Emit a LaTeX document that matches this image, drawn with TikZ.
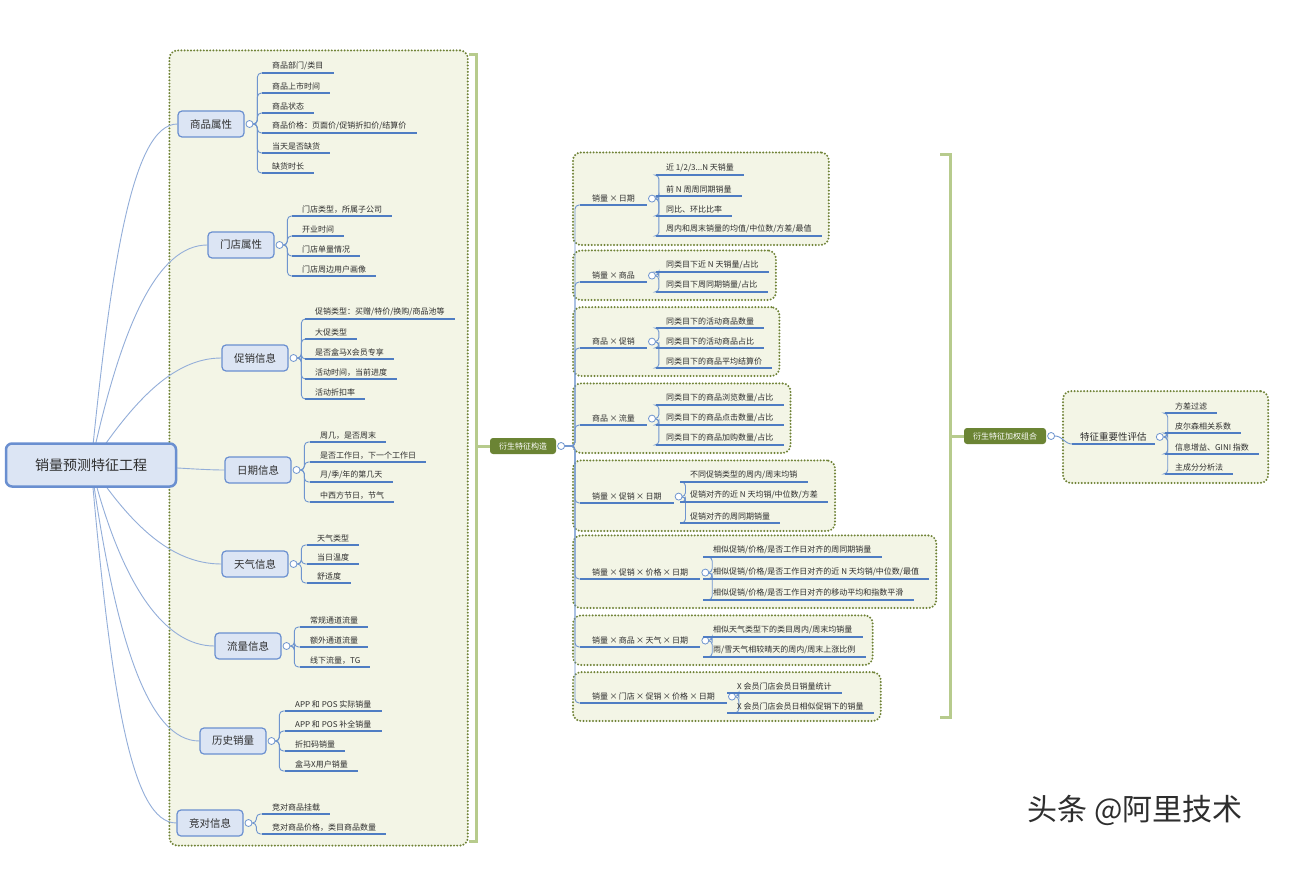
\documentclass[tikz,border=0pt]{standalone}
\usepackage{fontspec}
\setmainfont{Noto Sans CJK SC}
\usetikzlibrary{positioning, fit, backgrounds, calc}

\definecolor{txt}{HTML}{2E2E2E}
\definecolor{catfill}{HTML}{DCE5F4}
\definecolor{catdraw}{HTML}{6A8FD0}
\definecolor{ulblue}{HTML}{4F7DC3}
\definecolor{twigblue}{HTML}{6F95CF}
\definecolor{limbblue}{HTML}{93AED9}
\definecolor{boxfill}{HTML}{F3F5E6}
\definecolor{boxdraw}{HTML}{6F8236}
\definecolor{olive}{HTML}{6B8434}
\definecolor{brkgreen}{HTML}{B7CB8D}

\begin{document}
\begin{tikzpicture}[x=1pt, y=-1pt,
  root/.style={draw=catdraw, fill=catfill, line width=2.5pt, rounded corners=6pt,
               minimum width=170pt, minimum height=43pt, text=txt,
               font=\fontsize{14pt}{16pt}\selectfont},
  cat/.style={draw=catdraw, fill=catfill, line width=1.2pt, rounded corners=4pt,
              minimum width=66pt, minimum height=26pt, text=txt,
              font=\fontsize{10.5pt}{12pt}\selectfont},
  underln/.style={draw=ulblue, line width=2pt},
  leaf/.style={anchor=south west, inner xsep=10pt, inner ysep=2.5pt, text=txt,
               font=\fontsize{8pt}{9pt}\selectfont,
               append after command={(\tikzlastnode.south west) edge[underln] (\tikzlastnode.south east)}},
  glabel/.style={leaf, inner xsep=12pt},
  gen/.style={fill=olive, text=white, rounded corners=3pt, minimum width=66pt,
              minimum height=16pt, font=\fontsize{8pt}{9pt}\selectfont},
  dot/.style={circle, draw=twigblue, fill=white, line width=0.8pt, inner sep=0pt,
              minimum size=7pt},
  twig/.style={draw=twigblue, line width=0.9pt, rounded corners=4pt},
  limb/.style={draw=limbblue, line width=0.9pt},
  gbox/.style={draw=boxdraw, fill=boxfill, line width=2.2pt, rounded corners=8pt,
               dash pattern=on 0pt off 3.2pt, line cap=round},
  brk/.style={draw=brkgreen, line width=3pt},
]

\useasboundingbox (0,0) rectangle (1310,896);
\begin{scope}[on background layer]
  \fill[white] (0,0) rectangle (1310,896);
\end{scope}

% Root
\node[root] (root) at (91,465) {销量预测特征工程};

% Base feature categories
\node[cat] (item) at (211,124) {商品属性};
\node[cat] (store) at (241,245) {门店属性};
\node[cat] (promo) at (255,358) {促销信息};
\node[cat] (date) at (258,470) {日期信息};
\node[cat] (weather) at (255,564) {天气信息};
\node[cat] (traffic) at (248,646) {流量信息};
\node[cat] (hist) at (233,741) {历史销量};
\node[cat] (rival) at (210,823) {竞对信息};

\node[dot, right=1pt of item] (itemdot) {};
\node[dot, right=1pt of store] (storedot) {};
\node[dot, right=1pt of promo] (promodot) {};
\node[dot, right=1pt of date] (datedot) {};
\node[dot, right=1pt of weather] (weatherdot) {};
\node[dot, right=1pt of traffic] (trafficdot) {};
\node[dot, right=1pt of hist] (histdot) {};
\node[dot, right=1pt of rival] (rivaldot) {};

% Leaves of the categories
\node[leaf] (item1) at (262,73) {商品部门/类目};
\node[leaf] (item2) at (262,93) {商品上市时间};
\node[leaf] (item3) at (262,113) {商品状态};
\node[leaf] (item4) at (262,133) {商品价格：页面价/促销折扣价/结算价};
\node[leaf] (item5) at (262,153) {当天是否缺货};
\node[leaf] (item6) at (262,173) {缺货时长};

\node[leaf] (store1) at (292,216) {门店类型，所属子公司};
\node[leaf] (store2) at (292,236) {开业时间};
\node[leaf] (store3) at (292,256) {门店单量情况};
\node[leaf] (store4) at (292,276) {门店周边用户画像};

\node[leaf] (promo1) at (305,319) {促销类型：买赠/特价/换购/商品池等};
\node[leaf] (promo2) at (305,339) {大促类型};
\node[leaf] (promo3) at (305,359) {是否盒马X会员专享};
\node[leaf] (promo4) at (305,379) {活动时间，当前进度};
\node[leaf] (promo5) at (305,399) {活动折扣率};

\node[leaf] (date1) at (310,442) {周几，是否周末};
\node[leaf] (date2) at (310,462) {是否工作日，下一个工作日};
\node[leaf] (date3) at (310,482) {月/季/年的第几天};
\node[leaf] (date4) at (310,502) {中西方节日，节气};

\node[leaf] (weather1) at (307,545) {天气类型};
\node[leaf] (weather2) at (307,564) {当日温度};
\node[leaf] (weather3) at (307,583) {舒适度};

\node[leaf] (traffic1) at (300,627) {常规通道流量};
\node[leaf] (traffic2) at (300,647) {额外通道流量};
\node[leaf] (traffic3) at (300,667) {线下流量，TG};

\node[leaf] (hist1) at (285,711) {APP 和 POS 实际销量};
\node[leaf] (hist2) at (285,731) {APP 和 POS 补全销量};
\node[leaf] (hist3) at (285,751) {折扣码销量};
\node[leaf] (hist4) at (285,771) {盒马X用户销量};

\node[leaf] (rival1) at (262,814) {竞对商品挂载};
\node[leaf] (rival2) at (262,834) {竞对商品价格，类目商品数量};

% Derived feature construction
\node[gen] (derive) at (523,446) {衍生特征构造};
\node[dot, right=1pt of derive] (derivedot) {};

\node[glabel] (sd) at (580,205) {销量\,×\,日期};
\node[glabel] (si) at (580,282) {销量\,×\,商品};
\node[glabel] (ip) at (580,348) {商品\,×\,促销};
\node[glabel] (it) at (580,425) {商品\,×\,流量};
\node[glabel] (spd) at (580,503) {销量\,×\,促销\,×\,日期};
\node[glabel] (sppd) at (580,579) {销量\,×\,促销\,×\,价格\,×\,日期};
\node[glabel] (siwd) at (580,647) {销量\,×\,商品\,×\,天气\,×\,日期};
\node[glabel] (sspd) at (580,703) {销量\,×\,门店\,×\,促销\,×\,价格\,×\,日期};

\node[dot, right=1pt of sd] (sddot) {};
\node[dot, right=1pt of si] (sidot) {};
\node[dot, right=1pt of ip] (ipdot) {};
\node[dot, right=1pt of it] (itdot) {};
\node[dot, right=1pt of spd] (spddot) {};
\node[dot, right=1pt of sppd] (sppddot) {};
\node[dot, right=1pt of siwd] (siwddot) {};
\node[dot, right=1pt of sspd] (sspddot) {};

\node[leaf] (sd1) at (656,175) {近 1/2/3...N 天销量};
\node[leaf] (sd2) at (656,196) {前 N 周周同期销量};
\node[leaf] (sd3) at (656,216) {同比、环比比率};
\node[leaf] (sd4) at (656,236) {周内和周末销量的均值/中位数/方差/最值};

\node[leaf] (si1) at (656,272) {同类目下近 N 天销量/占比};
\node[leaf] (si2) at (656,292) {同类目下周同期销量/占比};

\node[leaf] (ip1) at (656,328) {同类目下的活动商品数量};
\node[leaf] (ip2) at (656,348) {同类目下的活动商品占比};
\node[leaf] (ip3) at (656,368) {同类目下的商品平均结算价};

\node[leaf] (it1) at (656,405) {同类目下的商品浏览数量/占比};
\node[leaf] (it2) at (656,425) {同类目下的商品点击数量/占比};
\node[leaf] (it3) at (656,445) {同类目下的商品加购数量/占比};

\node[leaf] (spd1) at (680,482) {不同促销类型的周内/周末均销};
\node[leaf] (spd2) at (680,502) {促销对齐的近 N 天均销/中位数/方差};
\node[leaf] (spd3) at (680,523) {促销对齐的周同期销量};

\node[leaf] (sppd1) at (703,557) {相似促销/价格/是否工作日对齐的周同期销量};
\node[leaf] (sppd2) at (703,579) {相似促销/价格/是否工作日对齐的近 N 天均销/中位数/最值};
\node[leaf] (sppd3) at (703,600) {相似促销/价格/是否工作日对齐的移动平均和指数平滑};

\node[leaf] (siwd1) at (703,637) {相似天气类型下的类目周内/周末均销量};
\node[leaf] (siwd2) at (703,657) {雨/雪天气相较晴天的周内/周末上涨比例};

\node[leaf] (sspd1) at (727,693) {X 会员门店会员日销量统计};
\node[leaf] (sspd2) at (727,713) {X 会员门店会员日相似促销下的销量};

% Weighted combination
\node[gen, minimum width=82pt] (weight) at (1005,436) {衍生特征加权组合};
\node[dot, right=1pt of weight] (weightdot) {};
\node[glabel, inner xsep=8pt, font=\fontsize{9.5pt}{11pt}\selectfont] (rank) at (1072,444) {特征重要性评估};
\node[dot, right=1pt of rank] (rankdot) {};

\node[leaf] (rank1) at (1165,413) {方差过滤};
\node[leaf] (rank2) at (1165,433) {皮尔森相关系数};
\node[leaf] (rank3) at (1165,454) {信息增益、GINI 指数};
\node[leaf] (rank4) at (1165,474) {主成分分析法};

% Watermark
\node[text=txt, font=\fontsize{30pt}{34pt}\selectfont] (mark) at (1135,810) {头条 @阿里技术};

% Group boxes
\begin{scope}[on background layer]
  \coordinate (leftedge) at ([xshift=6pt]promo1.south east);
  \node[gbox, fit=(item)(item1)(leftedge)(rival), inner xsep=7pt, inner ysep=9pt] (leftbox) {};
  \node[gbox, fit=(sd)(sd1)(sd4), inner xsep=7pt, inner ysep=9pt] {};
  \node[gbox, fit=(si)(si1)(si2), inner xsep=7pt, inner ysep=8pt] {};
  \node[gbox, fit=(ip)(ip1)(ip3), inner xsep=7pt, inner ysep=8pt] {};
  \node[gbox, fit=(it)(it1)(it3), inner xsep=7pt, inner ysep=8pt] {};
  \node[gbox, fit=(spd)(spd1)(spd2)(spd3), inner xsep=7pt, inner ysep=8pt] {};
  \node[gbox, fit=(sppd)(sppd1)(sppd2)(sppd3), inner xsep=7pt, inner ysep=8pt] {};
  \node[gbox, fit=(siwd)(siwd1)(siwd2), inner xsep=7pt, inner ysep=8pt] {};
  \node[gbox, fit=(sspd)(sspd1)(sspd2), inner xsep=7pt, inner ysep=8pt] {};
  \node[gbox, fit=(rank)(rank1)(rank3)(rank4), inner xsep=9pt, inner ysep=9pt] {};
\end{scope}

% Brackets
\begin{scope}[on background layer]
  \draw[brk] ([yshift=-5pt]leftbox.north east) -- ++(8,0) |- ([yshift=5pt]leftbox.south east);
  \draw[brk] (derive.west) -- ++(-13,0);
  \draw[brk] (940,155) -- (950,155) -- (950,717) -- (940,717);
  \draw[brk] (weight.west) -- ++(-13,0);
\end{scope}

% Connectors
\begin{scope}[on background layer]
  \draw[limb] (root.center) .. controls +(20,-200) and +(-45,0) .. (item.west);
  \draw[limb] (root.center) .. controls +(30,-140) and +(-50,0) .. (store.west);
  \draw[limb] (root.center) .. controls +(40,-60) and +(-50,0) .. (promo.west);
  \draw[limb] (root.center) .. controls +(60,0) and +(-30,0) .. (date.west);
  \draw[limb] (root.center) .. controls +(40,60) and +(-50,0) .. (weather.west);
  \draw[limb] (root.center) .. controls +(30,120) and +(-50,0) .. (traffic.west);
  \draw[limb] (root.center) .. controls +(25,180) and +(-50,0) .. (hist.west);
  \draw[limb] (root.center) .. controls +(20,230) and +(-45,0) .. (rival.west);

  \draw[twig] (itemdot.east) -- ++(4,0) |- (item1.south west);
  \draw[twig] (itemdot.east) -- ++(4,0) |- (item2.south west);
  \draw[twig] (itemdot.east) -- ++(4,0) |- (item3.south west);
  \draw[twig] (itemdot.east) -- ++(4,0) |- (item4.south west);
  \draw[twig] (itemdot.east) -- ++(4,0) |- (item5.south west);
  \draw[twig] (itemdot.east) -- ++(4,0) |- (item6.south west);

  \draw[twig] (storedot.east) -- ++(4,0) |- (store1.south west);
  \draw[twig] (storedot.east) -- ++(4,0) |- (store2.south west);
  \draw[twig] (storedot.east) -- ++(4,0) |- (store3.south west);
  \draw[twig] (storedot.east) -- ++(4,0) |- (store4.south west);

  \draw[twig] (promodot.east) -- ++(4,0) |- (promo1.south west);
  \draw[twig] (promodot.east) -- ++(4,0) |- (promo2.south west);
  \draw[twig] (promodot.east) -- ++(4,0) |- (promo3.south west);
  \draw[twig] (promodot.east) -- ++(4,0) |- (promo4.south west);
  \draw[twig] (promodot.east) -- ++(4,0) |- (promo5.south west);

  \draw[twig] (datedot.east) -- ++(4,0) |- (date1.south west);
  \draw[twig] (datedot.east) -- ++(4,0) |- (date2.south west);
  \draw[twig] (datedot.east) -- ++(4,0) |- (date3.south west);
  \draw[twig] (datedot.east) -- ++(4,0) |- (date4.south west);

  \draw[twig] (weatherdot.east) -- ++(4,0) |- (weather1.south west);
  \draw[twig] (weatherdot.east) -- ++(4,0) |- (weather2.south west);
  \draw[twig] (weatherdot.east) -- ++(4,0) |- (weather3.south west);

  \draw[twig] (trafficdot.east) -- ++(4,0) |- (traffic1.south west);
  \draw[twig] (trafficdot.east) -- ++(4,0) |- (traffic2.south west);
  \draw[twig] (trafficdot.east) -- ++(4,0) |- (traffic3.south west);

  \draw[twig] (histdot.east) -- ++(4,0) |- (hist1.south west);
  \draw[twig] (histdot.east) -- ++(4,0) |- (hist2.south west);
  \draw[twig] (histdot.east) -- ++(4,0) |- (hist3.south west);
  \draw[twig] (histdot.east) -- ++(4,0) |- (hist4.south west);

  \draw[twig] (rivaldot.east) -- ++(4,0) |- (rival1.south west);
  \draw[twig] (rivaldot.east) -- ++(4,0) |- (rival2.south west);

  \draw[twig] (derivedot.east) -- ++(10,0) |- (sd.south west);
  \draw[twig] (derivedot.east) -- ++(10,0) |- (si.south west);
  \draw[twig] (derivedot.east) -- ++(10,0) |- (ip.south west);
  \draw[twig] (derivedot.east) -- ++(10,0) |- (it.south west);
  \draw[twig] (derivedot.east) -- ++(10,0) |- (spd.south west);
  \draw[twig] (derivedot.east) -- ++(10,0) |- (sppd.south west);
  \draw[twig] (derivedot.east) -- ++(10,0) |- (siwd.south west);
  \draw[twig] (derivedot.east) -- ++(10,0) |- (sspd.south west);

  \draw[twig] (sddot.east) -- ++(3,0) |- (sd1.south west);
  \draw[twig] (sddot.east) -- ++(3,0) |- (sd2.south west);
  \draw[twig] (sddot.east) -- ++(3,0) |- (sd3.south west);
  \draw[twig] (sddot.east) -- ++(3,0) |- (sd4.south west);

  \draw[twig] (sidot.east) -- ++(3,0) |- (si1.south west);
  \draw[twig] (sidot.east) -- ++(3,0) |- (si2.south west);

  \draw[twig] (ipdot.east) -- ++(3,0) |- (ip1.south west);
  \draw[twig] (ipdot.east) -- ++(3,0) |- (ip2.south west);
  \draw[twig] (ipdot.east) -- ++(3,0) |- (ip3.south west);

  \draw[twig] (itdot.east) -- ++(3,0) |- (it1.south west);
  \draw[twig] (itdot.east) -- ++(3,0) |- (it2.south west);
  \draw[twig] (itdot.east) -- ++(3,0) |- (it3.south west);

  \draw[twig] (spddot.east) -- ++(3,0) |- (spd1.south west);
  \draw[twig] (spddot.east) -- ++(3,0) |- (spd2.south west);
  \draw[twig] (spddot.east) -- ++(3,0) |- (spd3.south west);

  \draw[twig] (sppddot.east) -- ++(3,0) |- (sppd1.south west);
  \draw[twig] (sppddot.east) -- ++(3,0) |- (sppd2.south west);
  \draw[twig] (sppddot.east) -- ++(3,0) |- (sppd3.south west);

  \draw[twig] (siwddot.east) -- ++(3,0) |- (siwd1.south west);
  \draw[twig] (siwddot.east) -- ++(3,0) |- (siwd2.south west);

  \draw[twig] (sspddot.east) -- ++(3,0) |- (sspd1.south west);
  \draw[twig] (sspddot.east) -- ++(3,0) |- (sspd2.south west);

  \draw[twig] (weightdot.east) to[out=0, in=180] (rank.south west);
  \draw[twig] (rankdot.east) -- ++(4,0) |- (rank1.south west);
  \draw[twig] (rankdot.east) -- ++(4,0) |- (rank2.south west);
  \draw[twig] (rankdot.east) -- ++(4,0) |- (rank3.south west);
  \draw[twig] (rankdot.east) -- ++(4,0) |- (rank4.south west);
\end{scope}

\end{tikzpicture}
\end{document}
